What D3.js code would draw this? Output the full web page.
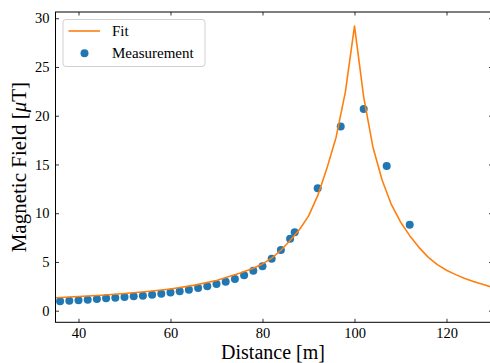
<!DOCTYPE html>
<html>
<head>
<meta charset="utf-8">
<script src="https://cdn.jsdelivr.net/npm/d3@7"></script>
<style>
  html, body { margin: 0; padding: 0; background: #fff; }
  svg { display: block; }
  text { font-family: "Liberation Serif", "DejaVu Serif", serif; fill: #000; }
</style>
</head>
<body>
<svg id="chart" width="490" height="363"></svg>
<script>
// Measurement data
const measX = [36, 38, 40, 42, 44, 46, 48, 50, 52, 54, 56, 58, 60, 62, 64, 66, 68, 70, 72, 74, 76, 78, 80, 82, 84, 86, 87, 92, 97, 102, 107, 112];
const measY = [0.96, 1.03, 1.07, 1.13, 1.20, 1.27, 1.33, 1.41, 1.47, 1.54, 1.64, 1.74, 1.86, 2.00, 2.15, 2.33, 2.50, 2.74, 2.98, 3.25, 3.64, 4.10, 4.56, 5.33, 6.23, 7.37, 8.04, 12.55, 18.9, 20.7, 14.84, 8.82];

// Fit curve
const fitX = [35, 40, 45, 50, 55, 60, 65, 70, 75, 78, 80, 82, 84, 86, 88, 90, 92, 94, 96, 98, 100, 102, 104, 106, 108, 110, 112, 114, 116, 118, 120, 122, 124, 126, 128, 130];
const fitY = [1.33, 1.45, 1.59, 1.76, 1.97, 2.23, 2.60, 3.10, 3.85, 4.35, 4.80, 5.40, 6.20, 7.20, 8.30, 9.70, 11.8, 14.6, 17.8, 22.4, 29.2, 21.9, 16.8, 13.4, 10.9, 9.1, 7.7, 6.5, 5.5, 4.72, 4.15, 3.70, 3.30, 2.98, 2.68, 2.38];

const xTicks = [40, 60, 80, 100, 120];
const yTicks = [0, 5, 10, 15, 20, 25, 30];

const svg = d3.select("#chart");
const L = 55.5, R = 492.5, T = 12, B = 322.3;

const x = d3.scaleLinear().domain([35, 130]).range([L, R]);
const y = d3.scaleLinear().domain([-1.19, 30.64]).range([B, T]);

const clipId = "plotclip";
svg.append("clipPath").attr("id", clipId)
  .append("rect").attr("x", L).attr("y", T).attr("width", R - L).attr("height", B - T);

const plot = svg.append("g").attr("clip-path", `url(#${clipId})`);

// Measurement points
plot.selectAll("circle.meas")
  .data(measX.map((d, i) => [d, measY[i]]))
  .enter().append("circle")
  .attr("class", "meas")
  .attr("cx", d => x(d[0]))
  .attr("cy", d => y(d[1]))
  .attr("r", 4)
  .attr("fill", "#1f77b4");

// Fit line
const line = d3.line().x(d => x(d[0])).y(d => y(d[1]));
plot.append("path")
  .datum(fitX.map((d, i) => [d, fitY[i]]))
  .attr("d", line)
  .attr("fill", "none")
  .attr("stroke", "#ff7f0e")
  .attr("stroke-width", 1.6)
  .attr("stroke-linejoin", "round");

// Axes with inward ticks
const tickLen = 3.5;
const axBottom = d3.axisBottom(x).tickValues(xTicks).tickSize(-tickLen).tickPadding(5).tickFormat(d3.format("d"));
const axTop = d3.axisTop(x).tickValues(xTicks).tickSize(-tickLen).tickFormat("");
const axLeft = d3.axisLeft(y).tickValues(yTicks).tickSize(-tickLen).tickPadding(6).tickFormat(d3.format("d"));
const axRight = d3.axisRight(y).tickValues(yTicks).tickSize(-tickLen).tickFormat("");

function style(g) {
  g.attr("font-family", "Liberation Serif, serif").attr("font-size", 14.5);
  g.select(".domain").remove();
  g.selectAll(".tick line").attr("stroke", "#000").attr("stroke-width", 0.8);
  g.selectAll(".tick text")
    .attr("font-family", "Liberation Serif, serif")
    .style("font-family", "'Liberation Serif', serif")
    .style("font-size", "14.5px").attr("fill", "#000");
}
svg.append("g").attr("transform", `translate(0,${B})`).call(axBottom).call(style);
svg.append("g").attr("transform", `translate(0,${T})`).call(axTop).call(style);
svg.append("g").attr("transform", `translate(${L},0)`).call(axLeft).call(style);
svg.append("g").attr("transform", `translate(${R},0)`).call(axRight).call(style);

// Spines
svg.append("rect").attr("x", L).attr("y", T).attr("width", R - L).attr("height", B - T)
  .attr("fill", "none").attr("stroke", "#000").attr("stroke-width", 1);

// Axis labels
svg.append("text")
  .attr("x", (L + R) / 2 - 1).attr("y", 359)
  .attr("text-anchor", "middle")
  .style("font-size", "20px")
  .text("Distance [m]");

const yl = svg.append("text")
  .attr("transform", `translate(26,${(T + B) / 2}) rotate(-90)`)
  .attr("text-anchor", "middle")
  .style("font-size", "21px");
yl.append("tspan").text("Magnetic Field [");
yl.append("tspan").style("font-style", "italic").text("μ");
yl.append("tspan").text("T]");

// Legend
const lg = svg.append("g");
lg.append("rect").attr("x", 63).attr("y", 19.5).attr("width", 142).attr("height", 47)
  .attr("rx", 3).attr("ry", 3)
  .attr("fill", "#fff").attr("fill-opacity", 0.8)
  .attr("stroke", "#d0d0d0").attr("stroke-width", 1);
lg.append("line").attr("x1", 68.5).attr("x2", 100).attr("y1", 31).attr("y2", 31)
  .attr("stroke", "#ff7f0e").attr("stroke-width", 1.6);
lg.append("text").attr("x", 112).attr("y", 36).style("font-size", "15px").text("Fit");
lg.append("circle").attr("cx", 84.5).attr("cy", 53.3).attr("r", 4).attr("fill", "#1f77b4");
lg.append("text").attr("x", 112).attr("y", 58).style("font-size", "15px").text("Measurement");
</script>
</body>
</html>
